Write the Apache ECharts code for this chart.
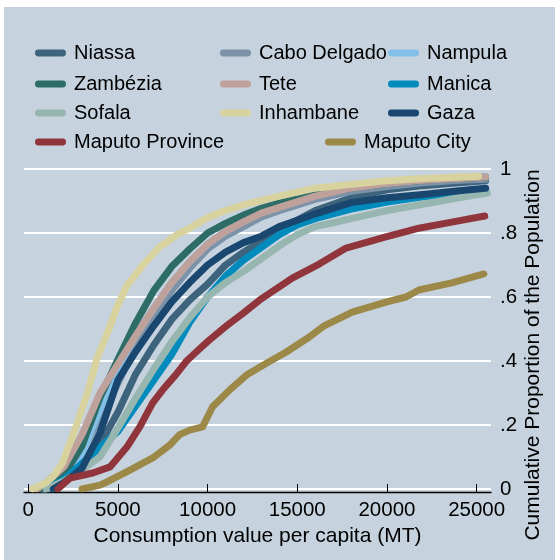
<!DOCTYPE html>
<html><head><meta charset="utf-8">
<script src="https://cdn.jsdelivr.net/npm/echarts@6/dist/echarts.min.js"></script>
<style>html,body{margin:0;padding:0;background:#fff}#c{width:555px;height:560px}</style>
</head><body><div id="c"></div>
<script>
// Series names (legend order)
const names = ["Niassa","Cabo Delgado","Nampula","Zambézia","Tete","Manica","Sofala","Inhambane","Gaza","Maputo Province","Maputo City"];
const colors = ["#3E647D","#7B92A8","#82C0E9","#2D6D66","#BFA19C","#008BBC","#97B6B0","#D7D29E","#1A476F","#90353B","#9C8847"];

// Cumulative distribution points: consumption (MT) and cumulative proportion
const niassaX = [1200,2000,3000,4000,5000,6000,7000,8000,9000,10000,11000,12000,13000,14000,15000,16000,17000,18000,20000,22000,24000,25500];
const niassaY = [0,.03,.075,.14,.24,.36,.45,.53,.59,.64,.70,.74,.775,.81,.84,.87,.89,.91,.935,.948,.957,.963];
const caboX = [900,2000,3000,4000,5000,6000,7000,8000,9000,10000,11000,12000,13000,14000,16000,18000,20000,22000,24000,25500];
const caboY = [0,.05,.12,.22,.33,.45,.53,.62,.69,.75,.79,.82,.85,.87,.905,.93,.945,.957,.965,.968];
const nampulaX = [800,2000,3000,4000,5000,6000,7000,8000,9000,10000,11000,12000,13000,14000,16000,18000,20000,22000,24000,25500];
const nampulaY = [0,.045,.11,.25,.38,.48,.565,.645,.71,.765,.805,.838,.866,.888,.922,.944,.957,.966,.972,.976];
const zambeziaX = [700,1400,2000,3000,4000,5000,6000,7000,8000,9000,10000,11000,12000,13000,14000,16000,18000,20000,22000,24000,25500];
const zambeziaY = [0,.02,.045,.135,.285,.405,.52,.62,.695,.75,.80,.83,.856,.877,.893,.92,.94,.955,.965,.97,.974];
const teteX = [500,1000,2000,3000,4000,5000,6000,7000,8000,9000,10000,11000,12000,13000,14000,16000,18000,20000,22000,24000,25500];
const teteY = [0,.02,.07,.17,.30,.39,.48,.565,.645,.71,.765,.805,.835,.862,.88,.915,.94,.955,.965,.97,.975];
const manicaX = [1000,2000,3000,4000,5000,6000,7000,8000,9000,10000,11000,12000,13000,14000,15000,16000,18000,20000,22000,24000,25500];
const manicaY = [0,.03,.08,.13,.18,.26,.34,.42,.52,.60,.665,.715,.755,.795,.825,.845,.875,.897,.913,.925,.935];
const sofalaX = [1000,2000,3000,4000,5000,6000,7000,8000,9000,10000,11000,12000,13000,14000,15000,16000,17000,18000,20000,22000,24000,25600];
const sofalaY = [0,.025,.06,.10,.19,.285,.375,.46,.535,.60,.645,.68,.72,.76,.795,.82,.832,.845,.87,.89,.91,.925];
const inhambaneX = [250,1000,1400,1900,2700,3300,3850,4500,5000,5500,6400,7300,8300,9000,10000,11000,12000,13000,14000,16000,18000,20000,22000,25100];
const inhambaneY = [0,.02,.04,.08,.20,.30,.41,.50,.575,.635,.70,.755,.795,.815,.848,.87,.888,.902,.915,.94,.952,.963,.97,.977];
const gazaX = [1400,2000,3000,4000,5000,6000,7000,8000,9000,10000,11000,12000,13000,14000,15000,16000,18000,20000,22000,24000,25500];
const gazaY = [0,.02,.065,.175,.34,.43,.51,.585,.645,.70,.74,.77,.79,.82,.84,.86,.895,.91,.92,.932,.94];
const mprovX = [1650,2330,3600,4560,5500,6220,6940,7500,8200,8830,9500,10110,11060,12000,12890,14720,16220,17720,19940,21780,23610,25450];
const mprovY = [0,.034,.05,.069,.131,.194,.269,.31,.355,.40,.435,.466,.51,.55,.59,.659,.703,.753,.788,.815,.834,.853];
const mcityX = [3000,4000,4390,5670,6940,7890,8440,9000,9720,10280,11220,12170,13280,14390,15670,16500,18060,19940,21060,21780,23610,25400];
const mcityY = [0,.012,.022,.059,.097,.137,.17,.184,.194,.257,.309,.356,.393,.428,.475,.51,.553,.584,.60,.622,.644,.672];

const xTicks = [0,5000,10000,15000,20000,25000];
const yTicks = [0,.2,.4,.6,.8,1];
const yTickLabels = ["0",".2",".4",".6",".8","1"];

const seriesX = [niassaX,caboX,nampulaX,zambeziaX,teteX,manicaX,sofalaX,inhambaneX,gazaX,mprovX,mcityX];
const seriesY = [niassaY,caboY,nampulaY,zambeziaY,teteY,manicaY,sofalaY,inhambaneY,gazaY,mprovY,mcityY];

const FONT = '"Liberation Sans", Arial, Helvetica, sans-serif';
const chart = echarts.init(document.getElementById('c'), null, {renderer:'canvas'});

const legendPos = [[35,53],[220,53],[388,53],[35,84],[220,84],[388,84],[35,113],[220,113],[388,113],[35,142],[325,142]];
const capsule = 'path://M3,0 L28,0 A3.5,3.5 0 0 1 28,7 L3,7 A3.5,3.5 0 0 1 3,0 Z';
const legends = names.map((n,i)=>({
  data:[n], left:legendPos[i][0], top:legendPos[i][1]-10, padding:0, itemGap:0,
  itemWidth:31, itemHeight:7, icon:capsule, selectedMode:false,
  textStyle:{fontFamily:FONT, fontSize:20, color:'#000', lineHeight:20, padding:[0,0,0,3]}
}));

const series = names.map((n,i)=>({
  name:n, type:'line', showSymbol:false, symbol:'none', animation:false,
  data: seriesX[i].map((x,j)=>[x, seriesY[i][j]]),
  itemStyle:{color:colors[i]},
  lineStyle:{color:colors[i], width:7, cap:'round', join:'round'}
}));

chart.setOption({
  animation:false,
  backgroundColor:'#fff',
  color:colors,
  textStyle:{fontFamily:FONT},
  graphic:[
    {type:'rect', z:-100, shape:{x:4,y:7,width:551,height:553}, style:{fill:'#C6D3DF'}, silent:true},
    {type:'text', x:533, y:355, rotation:Math.PI/2, style:{text:'Cumulative Proportion of the Population', font:'21px '+FONT, fill:'#000', textAlign:'center', textVerticalAlign:'middle'}}
  ],
  legend:legends,
  grid:{left:24, right:64, top:169, bottom:71, containLabel:false},
  xAxis:{
    type:'value', min:-234, max:25800, offset:3,
    axisLine:{show:true, onZero:false, lineStyle:{color:'#000', width:1.3}},
    axisTick:{show:true, inside:true, length:8, customValues:xTicks, lineStyle:{color:'#000', width:1}},
    axisLabel:{show:true, customValues:xTicks, margin:8, fontSize:20.5, color:'#000', fontFamily:FONT,
      formatter:(v)=>String(Math.round(v))},
    splitLine:{show:false},
    name:'Consumption value per capita (MT)', nameLocation:'middle', nameGap:25,
    nameTextStyle:{fontSize:21, color:'#000', fontFamily:FONT}
  },
  yAxis:{
    type:'value', position:'right', min:0, max:1, interval:0.2,
    axisLine:{show:false}, axisTick:{show:false},
    axisLabel:{margin:9, fontSize:20.5, color:'#000', fontFamily:FONT,
      formatter:(v)=>{const k=yTicks.findIndex(t=>Math.abs(t-v)<1e-6); return k>=0?yTickLabels[k]:'';}},
    splitLine:{show:true, lineStyle:{color:'#fff', width:2}}
  },
  series:series
});
</script></body></html>
